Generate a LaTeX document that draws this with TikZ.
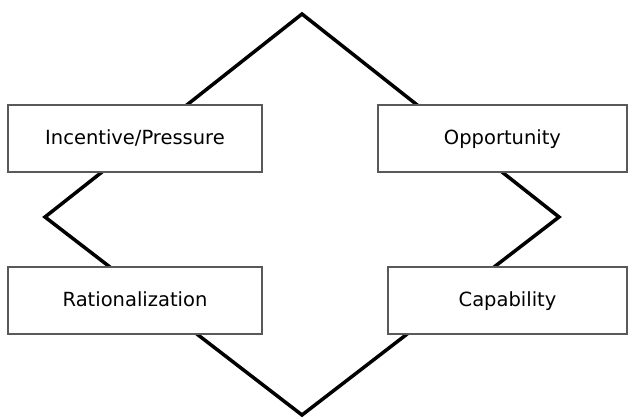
\documentclass[tikz,border=0pt]{standalone}
\usepackage{fontspec}
\setmainfont{DejaVu Sans}
\begin{document}
\begin{tikzpicture}[x=1pt, y=-1pt,
		factorbox/.style={draw=black!65, line width=1.4pt, fill=white, minimum height=67pt, inner sep=0pt, text height=15pt, text depth=4pt, font=\fontsize{19.5}{22}\selectfont}]
				\useasboundingbox (0,0) rectangle (629,418);
				%diamond
				\coordinate (top) at (302, 14);
				\coordinate (left) at (45, 217);
				\coordinate (bottom) at (302, 415);
				\coordinate (right) at (559, 217);
				\draw[line width=3.5pt, line join=miter] (top)--(left)--(bottom)--(right)--cycle;
				
				%factor boxes
				\node[factorbox, minimum width=254pt] (incentive) at (135, 138.5){Incentive/Pressure};
				\node[factorbox, minimum width=249pt] (opportunity) at (502.5, 138.5){Opportunity};
				\node[factorbox, minimum width=254pt] (rationalization) at (135, 300.5){Rationalization};
				\node[factorbox, minimum width=239pt] (capability) at (507.5, 300.5){Capability};
			\end{tikzpicture}
\end{document}
